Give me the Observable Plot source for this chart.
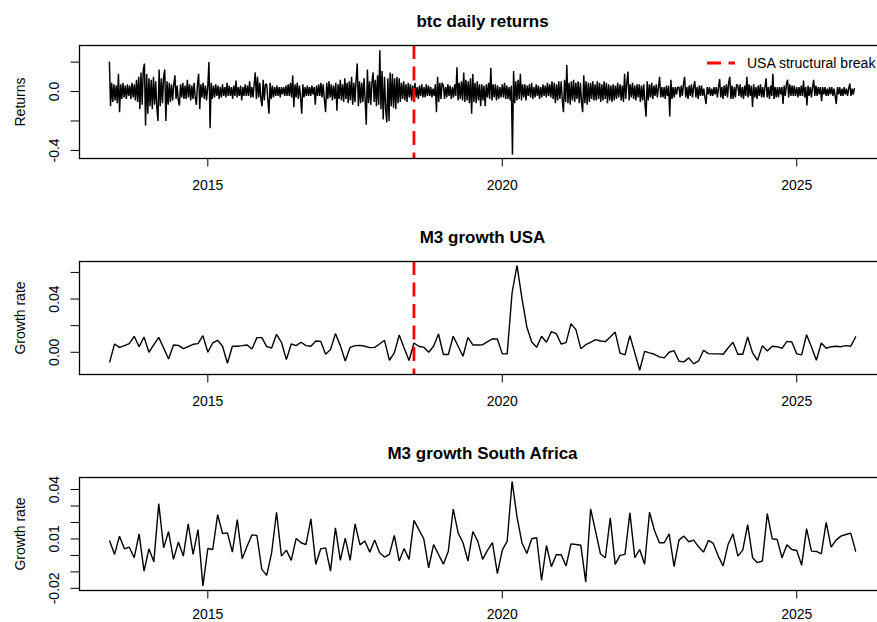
<!DOCTYPE html>
<html><head><meta charset="utf-8">
<script src="https://cdn.jsdelivr.net/npm/d3@7"></script>
<script src="https://cdn.jsdelivr.net/npm/@observablehq/plot@0.6"></script>
<style>
html,body{margin:0;padding:0;background:#fff;}
body{width:877px;height:622px;overflow:hidden;position:relative;font-family:"Liberation Sans",Arial,Helvetica,sans-serif;}
#charts{width:886px;}
#charts svg{display:block;max-width:none;}
#legend{position:absolute;left:707px;top:54.5px;display:flex;align-items:center;font-size:14px;line-height:16px;white-space:nowrap;color:#000;}
#legend svg{display:block;}
#legend span{margin-left:12px;}
</style></head><body>
<div id="charts"></div>
<div id="legend"><svg width="28" height="4"><line x1="0" x2="28" y1="2" y2="2" stroke="#ff0000" stroke-width="2.8" stroke-dasharray="14,7.5"></line></svg><span id="legendText"></span></div>
<script>
// ---------- titles & labels ----------
const titles = ["btc daily returns", "M3 growth USA", "M3 growth South Africa"];
const yLabels = ["Returns", "Growth rate", "Growth rate"];
const legendLabel = "USA structural break";
const usaBreak = 2018.5;

// ---------- axes ----------
const xDomain = [2012.821, 2026.507];
const xTicks = [2015, 2020, 2025];
const yDomain1 = [-0.455, 0.313];
const yTicks1 = [-0.4, -0.2, 0.0, 0.2];
const yTickLabels1 = ["-0.4", "", "0.0", ""];
const yDomain2 = [-0.0167, 0.0682];
const yTicks2 = [0.00, 0.02, 0.04, 0.06];
const yTickLabels2 = ["0.00", "", "0.04", ""];
const yDomain3 = [-0.0213, 0.0473];
const yTicks3 = [-0.02, -0.01, 0.00, 0.01, 0.02, 0.03, 0.04];
const yTickLabels3 = ["-0.02", "", "", "0.01", "", "", "0.04"];

// ---------- BTC returns (weekly readings of the daily band, per year) ----------
const btc2013 = [0.20,-0.10,0.06,-0.07,0.05,-0.06,0.04,-0.08,0.12,-0.14,0.05,-0.05,0.06,-0.04,0.04,-0.05,0.05,-0.03,0.04,-0.05,0.06,-0.04,0.05,-0.06,0.08,-0.07,0.10,-0.12,0.13,-0.09,0.15,0.19,-0.23,0.12,-0.15];
const btc2014 = [0.09,-0.10,0.08,-0.12,0.10,-0.09,0.07,-0.11,-0.20,0.15,-0.10,0.09,-0.08,0.10,0.15,-0.20,0.07,-0.09,0.06,-0.07,0.05,-0.06,0.05,0.11,-0.05,0.04,-0.06,-0.095,0.05,-0.04,0.06,-0.05,0.04,-0.05,0.08,-0.04,0.05,-0.06,0.04,-0.05,0.06,-0.04,-0.09,0.05,0.12,-0.12,0.05,-0.04,0.06,-0.05,0.04,-0.06];
const btc2015 = [0.04,0.20,-0.25,0.06,-0.05,0.04,-0.04,0.05,-0.03,0.04,-0.05,0.03,-0.04,0.05,-0.03,0.03,-0.04,0.06,-0.03,0.04,-0.03,0.03,-0.05,0.04,-0.03,0.075,-0.04,0.03,-0.03,0.04,-0.06,0.03,-0.03,0.05,-0.03,0.04,-0.03,0.07,-0.04,0.03,-0.04,0.05,0.13,-0.05,0.10,-0.04,0.06,-0.05,-0.10,0.08,-0.06,0.05];
const btc2016 = [0.05,-0.06,-0.15,0.06,-0.05,0.04,-0.04,0.03,-0.03,0.04,-0.03,0.03,-0.04,0.03,-0.02,0.03,-0.03,0.04,-0.03,0.05,-0.03,0.06,-0.04,0.11,-0.106,0.05,-0.04,0.06,-0.05,0.04,-0.04,-0.15,0.05,-0.04,0.03,-0.03,0.04,-0.03,0.03,-0.03,0.04,-0.02,0.03,-0.09,0.04,-0.03,0.05,-0.03,0.06,-0.04,0.05,-0.05];
const btc2017 = [-0.14,0.06,-0.05,0.07,-0.04,0.05,-0.06,0.04,-0.05,0.06,-0.13,0.05,-0.05,0.08,-0.06,0.05,-0.07,0.09,-0.05,0.06,-0.08,0.07,-0.06,0.10,-0.09,0.06,-0.07,0.08,0.19,-0.10,0.07,-0.08,0.06,-0.07,0.09,-0.06,-0.226,0.15,-0.08,0.07,-0.09,0.06,0.13,-0.07,0.08,-0.10,0.11,-0.09,0.28,-0.12,0.14,-0.19];
const btc2018 = [0.10,-0.12,-0.21,0.09,-0.20,0.13,-0.10,0.12,-0.11,0.09,-0.12,0.10,-0.08,0.09,-0.07,0.06,-0.05,0.07,-0.06,0.05,-0.07,0.06,-0.04,0.05,-0.06,0.04,-0.05,0.06,-0.04,0.03,-0.05,0.04,-0.03,0.05,-0.04,0.03,-0.04,0.05,-0.03,0.04,-0.03,0.03,-0.04,0.02,-0.03,0.05,-0.14,0.10,-0.07,0.06,-0.05,0.06];
const btc2019 = [0.04,-0.05,0.03,-0.04,0.05,-0.03,0.04,-0.05,0.03,-0.04,0.05,-0.03,0.165,-0.06,0.06,-0.05,0.07,-0.06,0.13,-0.07,0.08,-0.06,0.07,-0.08,0.09,-0.15,0.12,-0.07,0.06,-0.08,0.07,-0.06,0.05,-0.10,0.05,-0.06,0.04,-0.10,0.05,-0.04,0.06,-0.05,0.16,-0.06,0.05,-0.04,0.05,-0.06,0.04,-0.05,0.03,-0.04];
const btc2020 = [0.05,-0.04,0.06,-0.05,0.04,-0.05,0.03,-0.06,0.04,-0.43,0.14,-0.08,0.07,-0.06,0.08,-0.05,0.12,-0.06,0.05,-0.04,0.05,-0.06,0.04,-0.03,0.05,-0.04,0.06,-0.05,0.03,-0.04,0.05,-0.03,0.04,-0.05,0.03,-0.04,0.05,-0.03,0.04,-0.04,0.06,-0.03,0.05,-0.04,0.07,-0.05,0.06,-0.08,0.05,-0.06,0.07,-0.05];
const btc2021 = [0.07,-0.06,-0.14,0.08,-0.07,0.18,-0.08,0.06,-0.09,0.07,-0.06,0.08,-0.07,0.06,-0.05,0.07,-0.08,0.06,-0.07,-0.14,0.11,-0.08,0.07,-0.09,0.06,-0.07,0.06,-0.05,0.07,-0.06,0.05,-0.06,0.07,-0.05,0.06,-0.07,0.05,-0.06,0.07,-0.05,0.06,-0.08,0.05,-0.06,0.04,-0.07,0.05,-0.06,0.04,-0.05,0.06,-0.04];
const btc2022 = [0.05,-0.06,0.04,-0.07,0.12,-0.05,0.06,0.135,-0.06,0.05,-0.04,0.06,-0.05,0.04,-0.06,0.05,-0.04,0.05,-0.07,0.04,-0.06,0.05,-0.08,-0.17,0.07,-0.06,0.05,-0.04,0.06,-0.05,0.04,-0.03,0.05,-0.04,0.03,0.10,-0.04,0.03,-0.04,0.03,-0.05,0.04,-0.03,0.04,-0.17,0.08,-0.05,0.03,-0.04,0.03,-0.02,0.03];
const btc2023 = [0.03,-0.04,0.04,-0.03,0.05,0.10,-0.04,0.03,-0.05,0.04,-0.03,0.05,-0.04,0.03,0.07,-0.04,0.03,-0.05,0.04,-0.03,0.04,-0.03,0.02,-0.04,-0.085,0.03,-0.02,0.03,-0.03,0.02,-0.03,0.03,-0.02,0.03,-0.04,0.03,0.085,-0.04,0.03,-0.05,0.04,-0.03,0.05,-0.04,0.06,0.10,-0.05,0.04,-0.05,0.03,-0.04,0.05];
const btc2024 = [0.04,-0.03,0.05,-0.04,0.03,-0.05,0.04,-0.03,0.10,-0.04,0.05,-0.03,0.04,-0.105,0.05,-0.04,0.03,-0.05,0.04,-0.03,0.05,-0.04,0.03,-0.04,0.03,0.09,-0.04,0.03,-0.05,0.04,-0.03,0.12,-0.05,0.03,-0.04,0.03,-0.04,0.03,-0.02,0.03,-0.085,0.04,-0.03,0.05,0.08,-0.04,0.05,-0.03,0.04,-0.03,0.04,-0.03];
const btc2025 = [0.03,-0.04,0.03,-0.03,0.04,-0.03,0.075,-0.04,0.03,-0.095,0.04,-0.03,0.03,-0.04,0.03,0.08,-0.03,0.04,-0.03,0.03,-0.02,0.03,-0.065,0.03,-0.02,0.03,-0.03,0.02,-0.03,0.03,-0.02,0.03,-0.03,0.02,-0.03,-0.085,0.03,-0.02,0.03,-0.03,0.02,-0.03,0.03,-0.02,0.02,-0.03,0.02,0.055,-0.03,0.02,-0.02,0.02];
const btcYears = [2013,2014,2015,2016,2017,2018,2019,2020,2021,2022,2023,2024,2025];
const btcSeries = [btc2013,btc2014,btc2015,btc2016,btc2017,btc2018,btc2019,btc2020,btc2021,btc2022,btc2023,btc2024,btc2025];
const btcFirstDay = 120; // series starts 1 May 2013

// ---------- monthly M3 growth, May 2013 .. Jan 2026 ----------
const usaM3 = [-0.0072,0.0062,0.0037,0.0050,0.0065,0.0120,0.0042,0.0115,0.0000,0.0057,0.0112,0.0032,-0.0050,0.0055,0.0052,0.0027,0.0042,0.0060,0.0065,0.0125,
0.0000,0.0070,0.0090,0.0045,-0.0082,0.0045,0.0045,0.0050,0.0055,0.0025,0.0110,0.0110,0.0042,0.0032,0.0135,0.0075,-0.0055,0.0062,0.0050,0.0075,
0.0050,0.0045,0.0085,0.0082,-0.0015,0.0020,0.0140,0.0050,-0.0065,0.0037,0.0050,0.0052,0.0045,0.0035,0.0037,0.0062,0.0090,-0.0060,-0.0005,0.0130,
0.0032,-0.0062,0.0070,0.0045,0.0037,0.0000,0.0045,0.0137,-0.0017,-0.0017,0.0120,0.0045,-0.0030,0.0112,0.0055,0.0055,0.0057,0.0080,0.0100,0.0100,
-0.0012,-0.0012,0.0449,0.0652,0.0407,0.0190,0.0077,0.0037,0.0120,0.0075,0.0155,0.0140,0.0062,0.0072,0.0215,0.0170,0.0027,0.0057,0.0075,0.0095,
0.0085,0.0080,0.0115,0.0152,-0.0007,-0.0020,0.0125,-0.0005,-0.0135,0.0007,-0.0005,-0.0015,-0.0035,-0.0042,0.0000,0.0012,-0.0067,-0.0072,-0.0042,-0.0087,
-0.0065,0.0015,-0.0010,-0.0012,-0.0012,-0.0015,0.0032,0.0075,-0.0015,-0.0015,0.0115,-0.0005,-0.0060,0.0050,0.0010,0.0045,0.0042,0.0030,0.0082,0.0077,
-0.0012,-0.0020,0.0132,0.0040,-0.0060,0.0070,0.0030,0.0042,0.0045,0.0042,0.0050,0.0045,0.0115];
const zaM3 = [0.0087,0.0006,0.0117,0.0040,0.0050,-0.0014,0.0131,-0.0095,0.0040,-0.0038,0.0314,0.0046,0.0145,-0.0024,0.0081,-0.0004,0.0191,0.0006,0.0157,-0.0185,
0.0042,0.0036,0.0248,0.0133,0.0137,0.0020,0.0218,-0.0020,0.0056,0.0125,0.0121,-0.0085,-0.0121,0.0016,0.0262,-0.0004,0.0032,-0.0030,0.0103,0.0077,
0.0066,0.0222,-0.0054,0.0040,0.0046,-0.0095,0.0167,-0.0030,0.0105,-0.0030,0.0191,0.0064,0.0087,0.0020,0.0093,0.0016,-0.0010,0.0006,0.0121,-0.0034,
0.0042,-0.0024,0.0213,0.0157,0.0101,-0.0075,0.0066,0.0006,-0.0054,0.0026,0.0282,0.0137,0.0077,-0.0034,0.0145,0.0087,-0.0024,0.0032,0.0077,-0.0111,
0.0032,0.0087,0.0449,0.0234,0.0077,0.0012,0.0101,0.0107,-0.0151,0.0060,-0.0068,0.0004,0.0004,-0.0064,0.0070,0.0066,0.0062,-0.0161,0.0282,0.0147,
0.0010,-0.0014,0.0228,-0.0054,0.0000,0.0006,0.0258,-0.0014,0.0036,-0.0054,0.0262,0.0153,0.0077,0.0077,0.0131,-0.0068,0.0093,0.0117,0.0083,0.0093,
0.0052,0.0020,0.0091,0.0073,-0.0004,-0.0064,0.0066,0.0131,-0.0004,0.0032,0.0187,-0.0014,-0.0044,-0.0034,0.0254,0.0101,0.0097,-0.0014,0.0064,0.0036,
0.0030,-0.0060,0.0163,0.0026,0.0024,0.0010,0.0201,0.0050,0.0093,0.0117,0.0127,0.0135,0.0026];
const monthlyStartYear = 2013, monthlyStartMonth = 4; // May 2013

// ---------- build tables ----------
const btcData = [];
btcSeries.forEach((arr, j) => {
  const y = btcYears[j];
  const d0 = j === 0 ? btcFirstDay : 0;
  arr.forEach((r, k) => btcData.push({t: y + (d0 + 7 * k) / 365, r}));
});
const monthly = arr => arr.map((g, i) => ({t: monthlyStartYear + (monthlyStartMonth + i) / 12, g}));
const usaData = monthly(usaM3);
const zaData = monthly(zaM3);

const FONT = '"Liberation Sans", Arial, Helvetica, sans-serif';

function panel({title, ylab, data, yField, yDomain, yTicks, yTickLabels, showBreak, lineWidth, xPad}) {
  const tickData = yTicks.map((v, i) => ({v, label: yTickLabels[i]})).filter(d => d.label !== "");
  const marks = [
    Plot.line(data, {x: "t", y: yField, stroke: "black", strokeWidth: lineWidth, strokeLinejoin: "miter"}),
  ];
  if (showBreak) marks.push(Plot.ruleX([usaBreak], {stroke: "#ff0000", strokeWidth: 2.8, strokeDasharray: "14,7.5"}));
  marks.push(
    Plot.frame({stroke: "black", strokeWidth: 1.3}),
    Plot.axisX({ticks: xTicks, tickFormat: "d", tickSize: 8.5, tickPadding: xPad, fontSize: 14, label: null, stroke: "black", fill: "black"}),
    Plot.axisY({ticks: yTicks, tickSize: 8.5, tickFormat: () => "", label: null, stroke: "black"}),
    Plot.text(tickData, {y: "v", text: "label", frameAnchor: "left", rotate: -90, textAnchor: "middle", lineAnchor: "bottom", dx: -20.7, fontSize: 14, fill: "black"}),
    Plot.text([ylab], {text: d => d, frameAnchor: "left", rotate: -90, textAnchor: "middle", lineAnchor: "middle", dx: -59, fontSize: 14, fill: "black"}),
    Plot.text([title], {text: d => d, frameAnchor: "top", lineAnchor: "bottom", dy: -19, fontSize: 17, fontWeight: "bold", fill: "black"})
  );
  return Plot.plot({
    width: 886, height: 216,
    marginLeft: 79, marginRight: 1, marginTop: 45, marginBottom: 58,
    style: {fontFamily: FONT, fontSize: "14px", color: "black", background: "white", maxWidth: "none", overflow: "visible"},
    x: {domain: xDomain, type: "linear"},
    y: {domain: yDomain},
    marks
  });
}

const host = document.getElementById("charts");
host.append(panel({title: titles[0], ylab: yLabels[0], data: btcData, yField: "r", yDomain: yDomain1, yTicks: yTicks1, yTickLabels: yTickLabels1, showBreak: true, lineWidth: 1.45, xPad: 13.5}));
host.append(panel({title: titles[1], ylab: yLabels[1], data: usaData, yField: "g", yDomain: yDomain2, yTicks: yTicks2, yTickLabels: yTickLabels2, showBreak: true, lineWidth: 1.4, xPad: 13.5}));
host.append(panel({title: titles[2], ylab: yLabels[2], data: zaData, yField: "g", yDomain: yDomain3, yTicks: yTicks3, yTickLabels: yTickLabels3, showBreak: false, lineWidth: 1.4, xPad: 10}));
document.getElementById("legendText").textContent = legendLabel;
</script></body></html>
